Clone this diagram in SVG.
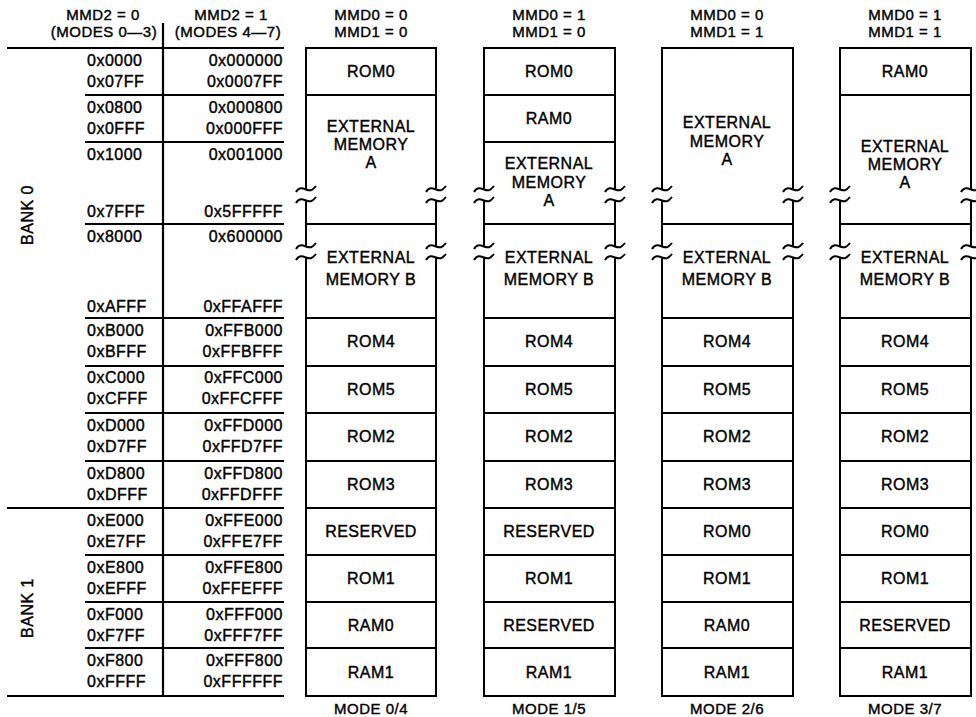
<svg xmlns="http://www.w3.org/2000/svg" xmlns:xlink="http://www.w3.org/1999/xlink" width="976" height="717" viewBox="0 0 976 717">
<style>
text{font-family:"Liberation Sans",Arial,sans-serif;font-size:16px;letter-spacing:0.5px;fill:#000;stroke:#000;stroke-width:0.4px}
.h{font-size:15px}
.c{text-anchor:middle}
.r{text-anchor:end}
.cell{fill:#fff;stroke:#000;stroke-width:2}
.ln{stroke:#000;stroke-width:2.2;fill:none}
.tl{stroke:#000;stroke-width:2;fill:none}
</style>
<defs>
<g id="brk">
<rect x="-3" y="0" width="6" height="11" fill="#fff"/>
<path class="tl" d="M-10,3 C-7,-2 -4,-1 0,0.5 S6,2 10,-3"/>
<path class="tl" d="M-10,14 C-7,9 -4,10 0,11.5 S6,13 10,8"/>
</g>
</defs>
<rect width="976" height="717" fill="#fff"/>

<g id="address-table">
<text class="c h" x="103" y="20">MMD2 = 0</text>
<text class="c h" x="104" y="37">(MODES 0—3)</text>
<text class="c h" x="231" y="20">MMD2 = 1</text>
<text class="c h" x="228" y="37">(MODES 4—7)</text>
<line class="ln" x1="7" y1="48" x2="284" y2="48"/>
<line class="ln" x1="163" y1="23" x2="163" y2="696"/>
<line class="ln" x1="85" y1="95" x2="284" y2="95"/>
<line class="ln" x1="85" y1="142" x2="284" y2="142"/>
<line class="ln" x1="85" y1="224" x2="284" y2="224"/>
<line class="ln" x1="85" y1="318" x2="284" y2="318"/>
<line class="ln" x1="85" y1="366" x2="284" y2="366"/>
<line class="ln" x1="85" y1="413" x2="284" y2="413"/>
<line class="ln" x1="85" y1="461" x2="284" y2="461"/>
<line class="ln" x1="7" y1="508" x2="284" y2="508"/>
<line class="ln" x1="85" y1="555" x2="284" y2="555"/>
<line class="ln" x1="85" y1="602" x2="284" y2="602"/>
<line class="ln" x1="85" y1="648" x2="284" y2="648"/>
<line class="ln" x1="7" y1="696" x2="284" y2="696"/>
<text class="c" transform="translate(33,215) rotate(-90)">BANK 0</text>
<text class="c" transform="translate(33,608) rotate(-90)">BANK 1</text>
<g>
<text x="87" y="66">0x0000</text><text class="r" x="283" y="66">0x000000</text>
<text x="87" y="87">0x07FF</text><text class="r" x="283" y="87">0x0007FF</text>
<text x="87" y="113">0x0800</text><text class="r" x="283" y="113">0x000800</text>
<text x="87" y="134">0x0FFF</text><text class="r" x="283" y="134">0x000FFF</text>
<text x="87" y="160">0x1000</text><text class="r" x="283" y="160">0x001000</text>
<text x="87" y="217">0x7FFF</text><text class="r" x="283" y="217">0x5FFFFF</text>
<text x="87" y="242">0x8000</text><text class="r" x="283" y="242">0x600000</text>
<text x="87" y="312">0xAFFF</text><text class="r" x="283" y="312">0xFFAFFF</text>
<text x="87" y="336">0xB000</text><text class="r" x="283" y="336">0xFFB000</text>
<text x="87" y="357">0xBFFF</text><text class="r" x="283" y="357">0xFFBFFF</text>
<text x="87" y="383">0xC000</text><text class="r" x="283" y="383">0xFFC000</text>
<text x="87" y="404">0xCFFF</text><text class="r" x="283" y="404">0xFFCFFF</text>
<text x="87" y="431">0xD000</text><text class="r" x="283" y="431">0xFFD000</text>
<text x="87" y="452">0xD7FF</text><text class="r" x="283" y="452">0xFFD7FF</text>
<text x="87" y="479">0xD800</text><text class="r" x="283" y="479">0xFFD800</text>
<text x="87" y="500">0xDFFF</text><text class="r" x="283" y="500">0xFFDFFF</text>
<text x="87" y="526">0xE000</text><text class="r" x="283" y="526">0xFFE000</text>
<text x="87" y="547">0xE7FF</text><text class="r" x="283" y="547">0xFFE7FF</text>
<text x="87" y="573">0xE800</text><text class="r" x="283" y="573">0xFFE800</text>
<text x="87" y="594">0xEFFF</text><text class="r" x="283" y="594">0xFFEFFF</text>
<text x="87" y="620">0xF000</text><text class="r" x="283" y="620">0xFFF000</text>
<text x="87" y="641">0xF7FF</text><text class="r" x="283" y="641">0xFFF7FF</text>
<text x="87" y="666">0xF800</text><text class="r" x="283" y="666">0xFFF800</text>
<text x="87" y="687">0xFFFF</text><text class="r" x="283" y="687">0xFFFFFF</text>
</g>
</g>

<g id="mode04">
<text class="c h" x="371" y="20">MMD0 = 0</text>
<text class="c h" x="371" y="37">MMD1 = 0</text>
<g id="m04-rom0"><rect class="cell" x="306" y="48" width="130" height="47"/><text class="c" x="371" y="77">ROM0</text></g>
<g id="m04-exta"><rect class="cell" x="306" y="95" width="130" height="129"/><text class="c" x="371" y="132">EXTERNAL</text><text class="c" x="371" y="150">MEMORY</text><text class="c" x="371" y="168">A</text></g>
<g id="m04-extb"><rect class="cell" x="306" y="224" width="130" height="94"/><text class="c" x="371" y="263">EXTERNAL</text><text class="c" x="371" y="285">MEMORY B</text></g>
<g id="m04-rom4"><rect class="cell" x="306" y="318" width="130" height="48"/><text class="c" x="371" y="347">ROM4</text></g>
<g id="m04-rom5"><rect class="cell" x="306" y="366" width="130" height="47"/><text class="c" x="371" y="395">ROM5</text></g>
<g id="m04-rom2"><rect class="cell" x="306" y="413" width="130" height="48"/><text class="c" x="371" y="442">ROM2</text></g>
<g id="m04-rom3"><rect class="cell" x="306" y="461" width="130" height="47"/><text class="c" x="371" y="490">ROM3</text></g>
<g id="m04-res"><rect class="cell" x="306" y="508" width="130" height="47"/><text class="c" x="371" y="537">RESERVED</text></g>
<g id="m04-rom1"><rect class="cell" x="306" y="555" width="130" height="47"/><text class="c" x="371" y="584">ROM1</text></g>
<g id="m04-ram0"><rect class="cell" x="306" y="602" width="130" height="46"/><text class="c" x="371" y="631">RAM0</text></g>
<g id="m04-ram1"><rect class="cell" x="306" y="648" width="130" height="48"/><text class="c" x="371" y="678">RAM1</text></g>
<text class="c h" x="371" y="714">MODE 0/4</text>
</g>

<g id="mode15">
<text class="c h" x="549" y="20">MMD0 = 1</text>
<text class="c h" x="549" y="37">MMD1 = 0</text>
<g id="m15-rom0"><rect class="cell" x="484" y="48" width="131" height="47"/><text class="c" x="549" y="77">ROM0</text></g>
<g id="m15-ram0a"><rect class="cell" x="484" y="95" width="131" height="47"/><text class="c" x="549" y="124">RAM0</text></g>
<g id="m15-exta"><rect class="cell" x="484" y="142" width="131" height="82"/><text class="c" x="549" y="169">EXTERNAL</text><text class="c" x="549" y="188">MEMORY</text><text class="c" x="549" y="206">A</text></g>
<g id="m15-extb"><rect class="cell" x="484" y="224" width="131" height="94"/><text class="c" x="549" y="263">EXTERNAL</text><text class="c" x="549" y="285">MEMORY B</text></g>
<g id="m15-rom4"><rect class="cell" x="484" y="318" width="131" height="48"/><text class="c" x="549" y="347">ROM4</text></g>
<g id="m15-rom5"><rect class="cell" x="484" y="366" width="131" height="47"/><text class="c" x="549" y="395">ROM5</text></g>
<g id="m15-rom2"><rect class="cell" x="484" y="413" width="131" height="48"/><text class="c" x="549" y="442">ROM2</text></g>
<g id="m15-rom3"><rect class="cell" x="484" y="461" width="131" height="47"/><text class="c" x="549" y="490">ROM3</text></g>
<g id="m15-res"><rect class="cell" x="484" y="508" width="131" height="47"/><text class="c" x="549" y="537">RESERVED</text></g>
<g id="m15-rom1"><rect class="cell" x="484" y="555" width="131" height="47"/><text class="c" x="549" y="584">ROM1</text></g>
<g id="m15-res2"><rect class="cell" x="484" y="602" width="131" height="46"/><text class="c" x="549" y="631">RESERVED</text></g>
<g id="m15-ram1"><rect class="cell" x="484" y="648" width="131" height="48"/><text class="c" x="549" y="678">RAM1</text></g>
<text class="c h" x="549" y="714">MODE 1/5</text>
</g>

<g id="mode26">
<text class="c h" x="727" y="20">MMD0 = 0</text>
<text class="c h" x="727" y="37">MMD1 = 1</text>
<g id="m26-exta"><rect class="cell" x="662" y="48" width="131" height="176"/><text class="c" x="727" y="128">EXTERNAL</text><text class="c" x="727" y="147">MEMORY</text><text class="c" x="727" y="165">A</text></g>
<g id="m26-extb"><rect class="cell" x="662" y="224" width="131" height="94"/><text class="c" x="727" y="263">EXTERNAL</text><text class="c" x="727" y="285">MEMORY B</text></g>
<g id="m26-rom4"><rect class="cell" x="662" y="318" width="131" height="48"/><text class="c" x="727" y="347">ROM4</text></g>
<g id="m26-rom5"><rect class="cell" x="662" y="366" width="131" height="47"/><text class="c" x="727" y="395">ROM5</text></g>
<g id="m26-rom2"><rect class="cell" x="662" y="413" width="131" height="48"/><text class="c" x="727" y="442">ROM2</text></g>
<g id="m26-rom3"><rect class="cell" x="662" y="461" width="131" height="47"/><text class="c" x="727" y="490">ROM3</text></g>
<g id="m26-rom0"><rect class="cell" x="662" y="508" width="131" height="47"/><text class="c" x="727" y="537">ROM0</text></g>
<g id="m26-rom1"><rect class="cell" x="662" y="555" width="131" height="47"/><text class="c" x="727" y="584">ROM1</text></g>
<g id="m26-ram0"><rect class="cell" x="662" y="602" width="131" height="46"/><text class="c" x="727" y="631">RAM0</text></g>
<g id="m26-ram1"><rect class="cell" x="662" y="648" width="131" height="48"/><text class="c" x="727" y="678">RAM1</text></g>
<text class="c h" x="727" y="714">MODE 2/6</text>
</g>

<g id="mode37">
<text class="c h" x="905" y="20">MMD0 = 1</text>
<text class="c h" x="905" y="37">MMD1 = 1</text>
<g id="m37-ram0a"><rect class="cell" x="840" y="48" width="131" height="47"/><text class="c" x="905" y="77">RAM0</text></g>
<g id="m37-exta"><rect class="cell" x="840" y="95" width="131" height="129"/><text class="c" x="905" y="152">EXTERNAL</text><text class="c" x="905" y="170">MEMORY</text><text class="c" x="905" y="188">A</text></g>
<g id="m37-extb"><rect class="cell" x="840" y="224" width="131" height="94"/><text class="c" x="905" y="263">EXTERNAL</text><text class="c" x="905" y="285">MEMORY B</text></g>
<g id="m37-rom4"><rect class="cell" x="840" y="318" width="131" height="48"/><text class="c" x="905" y="347">ROM4</text></g>
<g id="m37-rom5"><rect class="cell" x="840" y="366" width="131" height="47"/><text class="c" x="905" y="395">ROM5</text></g>
<g id="m37-rom2"><rect class="cell" x="840" y="413" width="131" height="48"/><text class="c" x="905" y="442">ROM2</text></g>
<g id="m37-rom3"><rect class="cell" x="840" y="461" width="131" height="47"/><text class="c" x="905" y="490">ROM3</text></g>
<g id="m37-rom0"><rect class="cell" x="840" y="508" width="131" height="47"/><text class="c" x="905" y="537">ROM0</text></g>
<g id="m37-rom1"><rect class="cell" x="840" y="555" width="131" height="47"/><text class="c" x="905" y="584">ROM1</text></g>
<g id="m37-res"><rect class="cell" x="840" y="602" width="131" height="46"/><text class="c" x="905" y="631">RESERVED</text></g>
<g id="m37-ram1"><rect class="cell" x="840" y="648" width="131" height="48"/><text class="c" x="905" y="678">RAM1</text></g>
<text class="c h" x="905" y="714">MODE 3/7</text>
</g>

<g id="break-marks">
<use href="#brk" x="306" y="189"/><use href="#brk" x="436" y="189"/>
<use href="#brk" x="306" y="246"/><use href="#brk" x="436" y="246"/>
<use href="#brk" x="484" y="189"/><use href="#brk" x="615" y="189"/>
<use href="#brk" x="484" y="246"/><use href="#brk" x="615" y="246"/>
<use href="#brk" x="662" y="189"/><use href="#brk" x="793" y="189"/>
<use href="#brk" x="662" y="246"/><use href="#brk" x="793" y="246"/>
<use href="#brk" x="840" y="189"/><use href="#brk" x="971" y="189"/>
<use href="#brk" x="840" y="246"/><use href="#brk" x="971" y="246"/>
</g>
</svg>
